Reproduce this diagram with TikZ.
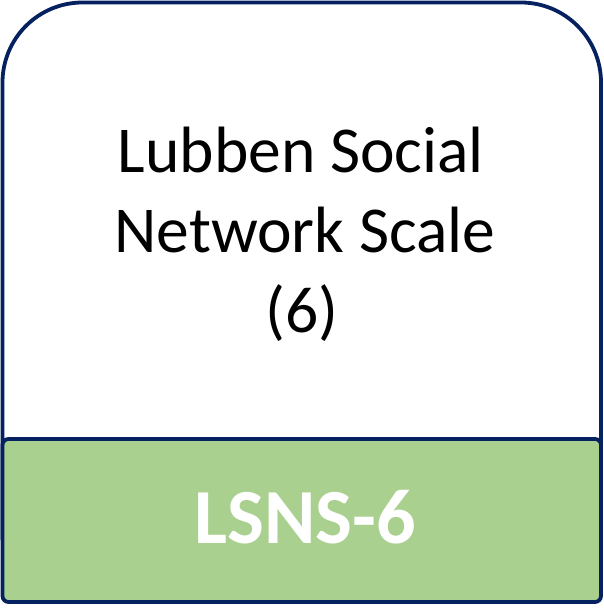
\documentclass[tikz,border=0pt]{standalone}
\usepackage{fontspec}
\setmainfont{Carlito}
\definecolor{navy}{HTML}{05215F}
\definecolor{lgreen}{HTML}{A9D08E}
\tikzset{
  frame/.style={draw=navy, line width=3.8pt, fill=white, rounded corners=80pt},
  band/.style={draw=navy, line width=3.8pt, fill=lgreen, rounded corners=6pt},
  title/.style={anchor=base, inner sep=0pt, text=black, font=\fontsize{65.5}{80}\selectfont},
  label/.style={anchor=base, inner sep=0pt, text=white, font=\fontsize{78}{90}\selectfont\bfseries}
}
\begin{document}
\begin{tikzpicture}[x=1pt,y=-1pt]
\useasboundingbox (0,0) rectangle (604,611);
\draw[frame] (2.5,540) -- (2.5,2.5) -- (601,2.5) -- (601,540);
\draw[band] (2.5,439) rectangle (601,602);
\node[title] (l1) at (301,172) {Lubben Social};
\node[title] (l2) at (305,252) {Network Scale};
\node[title] (l3) at (302,332) {(6)};
\node[label] (abbr) at (305,543) {LSNS-6};
\end{tikzpicture}
\end{document}
